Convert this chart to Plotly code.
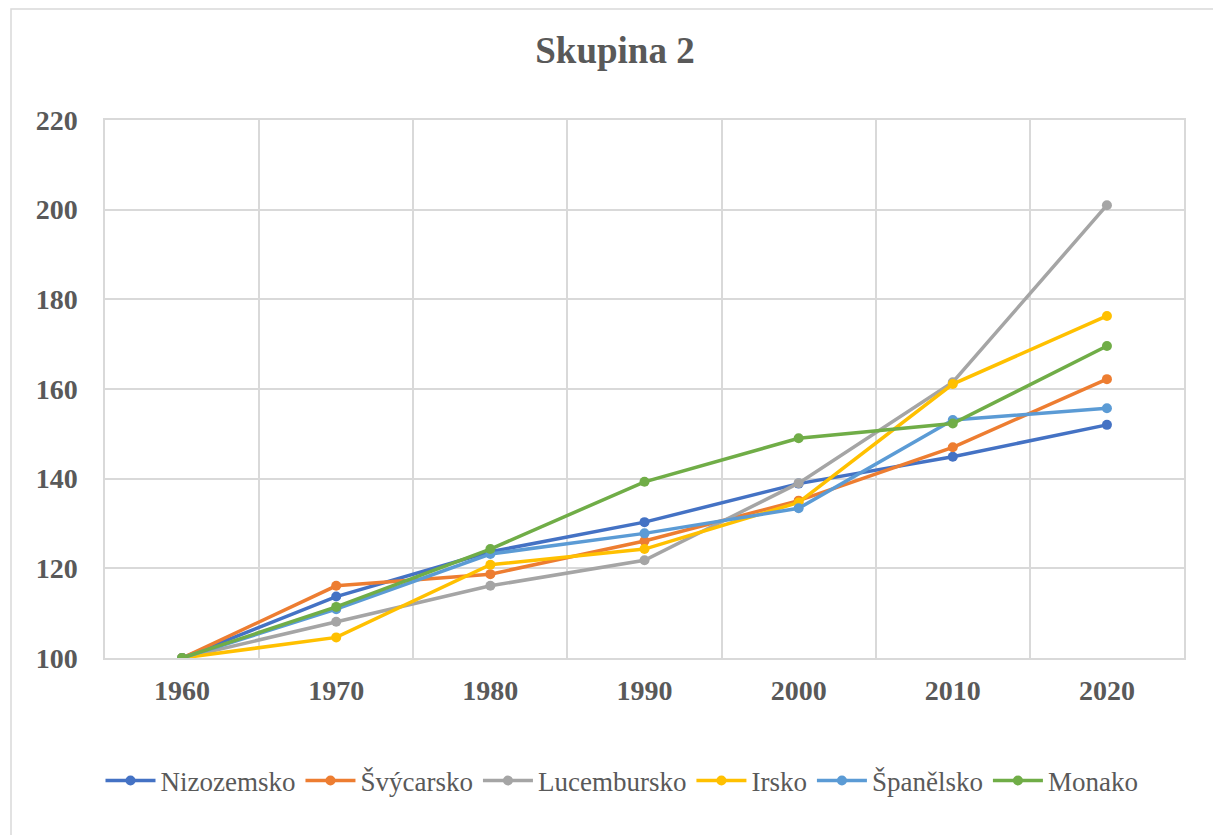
import plotly.graph_objects as go

years = [1960, 1970, 1980, 1990, 2000, 2010, 2020]
nizozemsko = [100, 113.7, 123.7, 130.3, 138.9, 144.9, 152.0]
svycarsko = [100, 116.1, 118.7, 126.1, 135.1, 147.0, 162.2]
lucembursko = [100, 108.1, 116.1, 121.8, 139.0, 161.5, 201.0]
irsko = [100, 104.6, 120.8, 124.3, 134.7, 161.1, 176.3]
spanelsko = [100, 110.9, 123.2, 127.8, 133.4, 153.1, 155.7]
monako = [100, 111.4, 124.3, 139.3, 149.0, 152.3, 169.6]

series = [
    ("Nizozemsko", nizozemsko, "#4472C4"),
    ("Švýcarsko", svycarsko, "#ED7D31"),
    ("Lucembursko", lucembursko, "#A5A5A5"),
    ("Irsko", irsko, "#FFC000"),
    ("Španělsko", spanelsko, "#5B9BD5"),
    ("Monako", monako, "#70AD47"),
]

y_ticks = [100, 120, 140, 160, 180, 200, 220]

FONT = "Liberation Serif, Times New Roman, serif"
GRAY = "#595959"
GRID = "#D9D9D9"

W, H = 1213, 827   # page body has an 8px default margin
OFF = 8

fig = go.Figure()
for name, vals, col in series:
    fig.add_trace(go.Scatter(
        x=years, y=vals, name=name, mode="lines+markers",
        line=dict(color=col, width=3.5),
        marker=dict(color=col, size=10),
    ))

L, T, R, B = 105 - OFF, 120 - OFF, (OFF + W) - 1184, (OFF + H) - 658

fig.update_layout(
    width=W, height=H,
    margin=dict(l=L, r=R, t=T, b=B),
    paper_bgcolor="white", plot_bgcolor="white",
    title=dict(text="Skupina 2", x=(615 - OFF) / W, xanchor="center",
               y=1 - (50 - OFF) / H, yanchor="middle", yref="container",
               font=dict(family=FONT, size=37, color=GRAY, weight="bold")),
    legend=dict(orientation="h", x=(622 - OFF) / W, xanchor="center", xref="container",
                y=1 - (781 - OFF) / H, yanchor="middle", yref="container",
                font=dict(family=FONT, size=27, color=GRAY),
                itemwidth=50, tracegroupgap=0),
    showlegend=True,
)

fig.update_xaxes(
    range=[1955, 2025], tickvals=years, ticktext=[str(y) for y in years],
    showgrid=False, zeroline=False,
    showline=True, mirror=True, linecolor=GRID, linewidth=1.5,
    tickfont=dict(family=FONT, size=28, color=GRAY, weight="bold"),
    ticks="", ticklabelstandoff=7,
    minor=dict(tick0=1955, dtick=10, showgrid=True, gridcolor=GRID, gridwidth=1.5, ticks=""),
)
fig.update_yaxes(
    range=[100, 220], tickvals=y_ticks,
    showgrid=True, gridcolor=GRID, gridwidth=1.5, zeroline=False,
    showline=True, mirror=True, linecolor=GRID, linewidth=1.5,
    tickfont=dict(family=FONT, size=28, color=GRAY, weight="bold"),
    ticks="", ticklabelstandoff=20,
)

# outer chart border
pw, ph = 1184 - 105, 658 - 120
fig.add_shape(type="rect", xref="paper", yref="paper",
              x0=(11 - 105) / pw, x1=(1217 - 105) / pw,
              y0=(658 - 845) / ph, y1=(658 - 9) / ph,
              line=dict(color=GRID, width=1.5), fillcolor="rgba(0,0,0,0)", layer="below")

fig.write_html("out.html")
